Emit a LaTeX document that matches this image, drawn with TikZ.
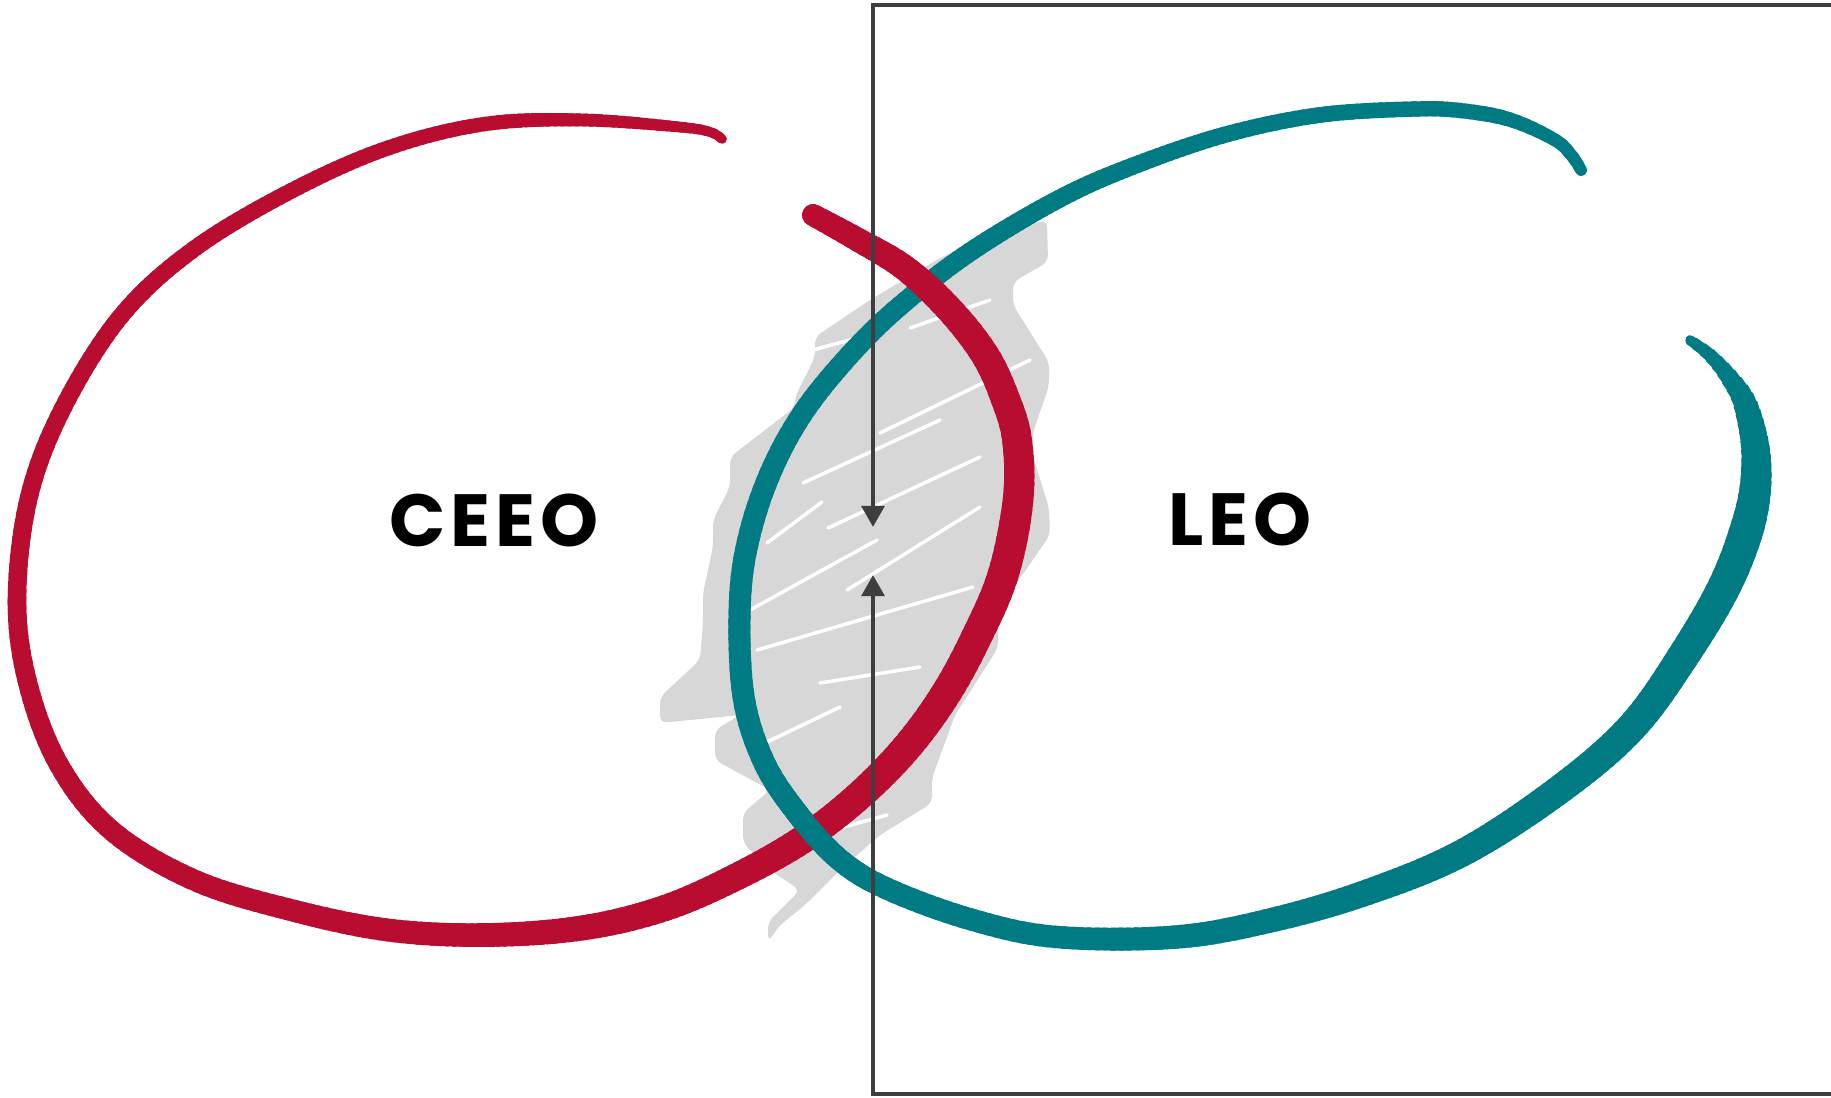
\documentclass[tikz,border=0pt]{standalone}
\usepackage{fontspec}
\newfontfamily\labelfont{Poppins}[LetterSpace=7]
\usetikzlibrary{arrows.meta}
\definecolor{ceeored}{RGB}{184,12,48}
\definecolor{leoteal}{RGB}{0,123,131}
\definecolor{hatchgray}{RGB}{215,215,215}
\definecolor{framegray}{RGB}{62,62,62}

% centre lines of the two hand-drawn loops
\newcommand{\ceeoloop}{plot[smooth,tension=0.6] coordinates {(722,139) (710,132) (679,127)
  (582,120) (485,124) (388,148) (291,191) (194,249) (121,316) (63,408) (29,497) (17,597)
  (27,680) (58,763) (111,830) (194,880) (291,910) (388,930) (485,935) (582,928) (665,908)
  (740,875) (805,838) (860,795) (907,747) (945,695) (975,640) (1003,575) (1018,500)
  (1017,440) (1005,398) (985,355) (950,310) (905,268) (855,238) (813,215)}}
\newcommand{\leoloop}{plot[smooth,tension=0.6] coordinates {(1581,170) (1572,156) (1555,140)
  (1511,120) (1464,111) (1416,109) (1320,115) (1224,135) (1128,168) (1057,200) (973,250)
  (907,300) (857,347) (807,407) (773,467) (750,533) (740,600) (743,693) (763,760) (797,813)
  (840,860) (890,890) (973,920) (1057,937) (1176,937) (1272,920) (1368,892) (1464,852)
  (1559,790) (1631,728) (1684,655) (1727,581) (1751,513) (1756,457) (1746,406) (1730,378)
  (1710,355) (1690,340)}}

\begin{document}
\begin{tikzpicture}[x=0.01cm,y=-0.01cm,
  every node/.style={font=\labelfont\bfseries\fontsize{21}{25}\selectfont},
  ceeo/.style={draw=ceeored,line cap=round,line join=round},
  leo/.style={draw=leoteal,line cap=round,line join=round},
  streak/.style={draw=white,line width=0.35mm,line cap=round},
  framearrow/.style={draw=framegray,line width=1.3pt,line join=miter,
    -{Triangle[width=6.4pt,length=6pt]}}]
  \useasboundingbox (0,0) rectangle (1831,1097);

  % shaded overlap scribble
  \fill[hatchgray,rounded corners=2pt] (815,337) -- (870,300) -- (940,258) -- (1000,232)
    -- (1047,220) -- (1048,262) -- (1013,282) -- (1013,305) -- (1049,362) -- (1049,386)
    -- (1033,432) -- (1033,456) -- (1049,508) -- (1050,535) -- (1005,600) -- (998,620)
    -- (998,648) -- (955,715) -- (932,778) -- (932,803) -- (880,835) -- (840,870)
    -- (805,905) -- (780,925) -- (768,942) -- (768,922) -- (800,890) -- (770,870)
    -- (743,843) -- (743,813) -- (770,790) -- (715,760) -- (715,730) -- (740,715)
    -- (660,723) -- (660,697) -- (700,660) -- (703,622) -- (703,593) -- (713,547)
    -- (713,520) -- (730,487) -- (730,457) -- (795,407) -- (795,397) -- (815,357) -- cycle;
  \foreach \xa/\ya/\xb/\yb in {910/328/990/300, 813/350/857/338, 880/433/1030/360,
      803/483/940/420, 767/543/822/502, 828/528/980/457, 750/610/877/540,
      757/650/973/587, 820/683/920/667, 847/590/980/507, 767/742/840/707,
      833/830/887/815}
    \draw[streak] (\xa,\ya) -- (\xb,\yb);

  % LEO loop: 1 degree wedges round (1250,530), width eased from wa to wb
  \foreach \a/\b/\wa/\wb in {0/20/34/31, 20/40/31/29, 40/60/29/27, 60/90/27/24,
      90/120/24/22, 120/180/22/22, 180/210/22/20, 210/240/20/18, 240/270/18/16,
      270/300/16/15, 300/315/15/11, 315/336/9/9, 336/341/9/15, 341/347/15/25,
      347/353/25/30, 353/360/30/34} {
    \pgfmathtruncatemacro\n{max(1,round(\b-\a))}
    \foreach \k in {1,...,\n} {
      \pgfmathsetmacro\s{\a+(\k-1)*(\b-\a)/\n}
      \pgfmathsetmacro\e{\a+\k*(\b-\a)/\n}
      \pgfmathsetmacro\w{\wa+(\wb-\wa)*(\k-0.5)/\n}
      \begin{scope}
        \clip (1250,530) -- +(\s-0.3:3000) -- +(\e+0.3:3000) -- cycle;
        \draw[leo,line width=\w*0.1mm] \leoloop;
      \end{scope}
    }
  }

  % CEEO loop, same way round (520,530)
  \foreach \a/\b/\wa/\wb in {0/30/31/30, 30/60/30/27, 60/90/27/24, 90/120/24/22,
      120/150/22/20, 150/180/20/18, 180/210/18/17, 210/240/17/15.5, 240/270/15.5/14,
      270/285/14/12, 285/300/12/9, 300/313/22/22, 313/330/22/27, 330/360/27/31} {
    \pgfmathtruncatemacro\n{max(1,round(\b-\a))}
    \foreach \k in {1,...,\n} {
      \pgfmathsetmacro\s{\a+(\k-1)*(\b-\a)/\n}
      \pgfmathsetmacro\e{\a+\k*(\b-\a)/\n}
      \pgfmathsetmacro\w{\wa+(\wb-\wa)*(\k-0.5)/\n}
      \begin{scope}
        \clip (520,530) -- +(\s-0.3:3000) -- +(\e+0.3:3000) -- cycle;
        \draw[ceeo,line width=\w*0.1mm] \ceeoloop;
      \end{scope}
    }
  }

  % LEO passes over CEEO at the lower crossing
  \begin{scope}
    \clip (765,785) rectangle (875,890);
    \draw[leo,line width=2.2mm] \leoloop;
  \end{scope}

  \node (ceeo) at (494,520) {CEEO};
  \node (leo) at (1240,519) {LEO};

  % frame with the two pointers
  \coordinate (topend) at (1845,5);
  \coordinate (topcorner) at (873,5);
  \coordinate (toptip) at (873,527);
  \coordinate (botend) at (1845,1094);
  \coordinate (botcorner) at (873,1094);
  \coordinate (bottip) at (873,575);
  \draw[framearrow] (topend) -- (topcorner) -- (toptip);
  \draw[framearrow] (botend) -- (botcorner) -- (bottip);
\end{tikzpicture}
\end{document}
